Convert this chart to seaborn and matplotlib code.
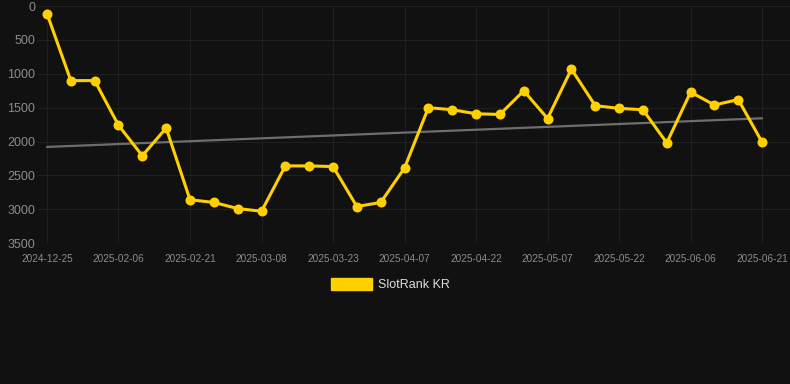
import numpy as np
import pandas as pd
import matplotlib
matplotlib.use("Agg")
import matplotlib.pyplot as plt
import matplotlib.patches as mpatches
import seaborn as sns

# rank values (lower = better, axis is inverted)
dates = ['2024-12-25', '2025-01-27', '2025-02-01', '2025-02-06', '2025-02-11',
         '2025-02-16', '2025-02-21', '2025-02-26', '2025-03-03', '2025-03-08',
         '2025-03-13', '2025-03-18', '2025-03-23', '2025-03-28', '2025-04-02',
         '2025-04-07', '2025-04-12', '2025-04-17', '2025-04-22', '2025-04-27',
         '2025-05-02', '2025-05-07', '2025-05-12', '2025-05-17', '2025-05-22',
         '2025-05-27', '2025-06-01', '2025-06-06', '2025-06-11', '2025-06-16',
         '2025-06-21']
ranks = [110, 1100, 1100, 1760, 2210, 1800, 2860, 2900, 2990, 3030,
         2360, 2360, 2370, 2960, 2900, 2390, 1500, 1530, 1590, 1600,
         1250, 1660, 930, 1470, 1510, 1530, 2020, 1270, 1460, 1380,
         2010]
series_name = 'SlotRank KR'
y_ticks = [0, 500, 1000, 1500, 2000, 2500, 3000, 3500]

df = pd.DataFrame({'idx': np.arange(len(dates)), 'date': dates, 'rank': ranks})

BG = '#111111'
YELLOW = '#FFD000'

sns.set_style('dark')
plt.rcParams['font.family'] = ['Liberation Sans', 'DejaVu Sans']

fig = plt.figure(figsize=(7.9, 3.84), dpi=100, facecolor=BG)
ax = fig.add_axes([0.048, 0.367, 0.952, 0.617])
ax.set_facecolor(BG)

# trend line (linear fit of the series)
sns.regplot(data=df, x='idx', y='rank', ax=ax, scatter=False, ci=None,
            line_kws={'color': '#6e6e6e', 'lw': 1.6, 'zorder': 2})

sns.lineplot(data=df, x='idx', y='rank', ax=ax, color=YELLOW, lw=2.2,
             marker='o', markersize=7.2, markeredgewidth=0, zorder=3)

ax.set_ylim(3500, 0)
ax.set_xlim(-0.38, 31.17)
ax.set_yticks(y_ticks)
ax.set_yticklabels([str(v) for v in y_ticks])
tick_idx = df['idx'][::3]
ax.set_xticks(tick_idx)
ax.set_xticklabels(df['date'][::3])

ax.grid(True, color='#1f1f1f', lw=0.8)
ax.tick_params(axis='y', colors='#8c8c8c', labelsize=9, length=0, pad=2)
ax.tick_params(axis='x', colors='#8c8c8c', labelsize=7.2, length=0, pad=8)
ax.set_xlabel('')
ax.set_ylabel('')
for s in ax.spines.values():
    s.set_visible(False)

handle = mpatches.Patch(facecolor=YELLOW, edgecolor=YELLOW, label=series_name)
fig.legend(handles=[handle], loc='center', bbox_to_anchor=(0.494, 0.26),
           frameon=False, fontsize=9, labelcolor='#dddddd',
           handlelength=3.3, handleheight=1.1, handletextpad=0.5)

fig.savefig('out.png', dpi=100, facecolor=BG)
